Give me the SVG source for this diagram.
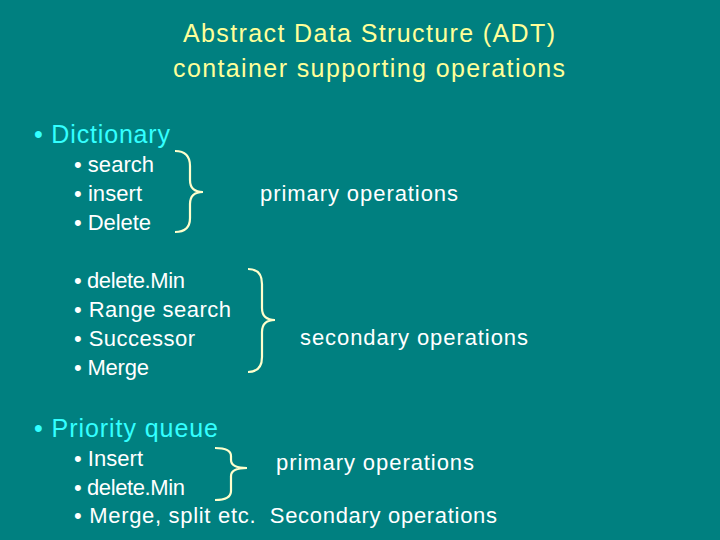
<svg xmlns="http://www.w3.org/2000/svg" width="720" height="540" viewBox="0 0 720 540">
<style>
text{font-family:"Liberation Sans",Arial,sans-serif}
.t{fill:#ffff99;font-size:25px}
.h{fill:#33ffff;font-size:25px}
.w{fill:#ffffff;font-size:22px}
.b{fill:none;stroke:#ffffcc;stroke-width:2.2}
</style>
<rect width="720" height="540" fill="#008080"/>
<g id="title"><text class="t" x="183" y="42" textLength="372" lengthAdjust="spacing">Abstract Data Structure (ADT)</text>
<text class="t" x="173" y="77" textLength="392" lengthAdjust="spacing">container supporting operations</text></g>
<g id="dict"><text class="h" x="34" y="143" textLength="136" lengthAdjust="spacing">• Dictionary</text>
<text class="w" x="74" y="172" textLength="80" lengthAdjust="spacing">• search</text>
<text class="w" x="74" y="201" textLength="68" lengthAdjust="spacing">• insert</text>
<text class="w" x="74" y="230" textLength="77" lengthAdjust="spacing">• Delete</text>
<text class="w" x="260" y="201" textLength="198" lengthAdjust="spacing">primary operations</text></g>
<g id="sec"><text class="w" x="74" y="288" textLength="111" lengthAdjust="spacing">• delete.Min</text>
<text class="w" x="74" y="317" textLength="157" lengthAdjust="spacing">• Range search</text>
<text class="w" x="74" y="346" textLength="121" lengthAdjust="spacing">• Successor</text>
<text class="w" x="74" y="375" textLength="75" lengthAdjust="spacing">• Merge</text>
<text class="w" x="300" y="345" textLength="228" lengthAdjust="spacing">secondary operations</text></g>
<g id="pq"><text class="h" x="34" y="437" textLength="184" lengthAdjust="spacing">• Priority queue</text>
<text class="w" x="74" y="466" textLength="69" lengthAdjust="spacing">• Insert</text>
<text class="w" x="74" y="495" textLength="111" lengthAdjust="spacing">• delete.Min</text>
<text class="w" x="74" y="523" textLength="423" lengthAdjust="spacing" xml:space="preserve">• Merge, split etc.  Secondary operations</text>
<text class="w" x="276" y="470" textLength="198" lengthAdjust="spacing">primary operations</text></g>
<g id="braces">
<path class="b" d="M175 151 Q190 151 190 166 V180 Q190 192 203 192 Q190 192 190 204 V218 Q190 232 175 232"/>
<path class="b" d="M248 269 Q262 269 262 284 V308 Q262 320 275 320 Q262 320 262 332 V357 Q262 372 248 372"/>
<path class="b" d="M215 448 Q231 448 231 456 V460 Q231 468 247 468 Q231 468 231 476 V491 Q231 500 215 500"/>
</g>
</svg>
